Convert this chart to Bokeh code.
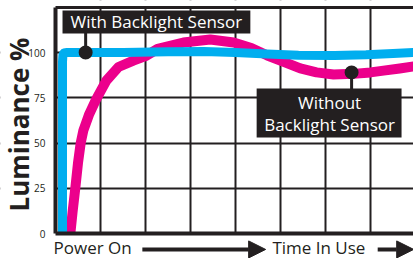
import math
from bokeh.plotting import figure
from bokeh.models import (FixedTicker, Label, Arrow, NormalHead, BoxAnnotation,
                          Segment, ColumnDataSource, LinearAxis)
from bokeh.embed import file_html
from bokeh.resources import INLINE

# ---- data ----
blue_x = [0.156, 0.156, 0.165, 0.19, 0.26, 0.6, 1.5, 2.5, 3.3, 4.0, 4.7, 5.4, 6.2, 6.9, 7.5, 7.96]
blue_y = [0, 95, 98.6, 99.7, 100, 100, 100, 100.4, 100.5, 100, 99.2, 98.5, 98.3, 98.7, 99.4, 100]

pink_x = [0.33, 0.38, 0.44, 0.5, 0.56, 0.62, 0.75, 0.9, 1.13, 1.4, 1.73, 2.0, 2.27, 2.84, 3.44,
          3.96, 4.35, 4.71, 5.1, 5.44, 5.8, 6.18, 6.62, 7.0, 7.29, 7.65, 7.96]
pink_y = [0, 12, 25, 39, 50, 57, 66, 74, 84.5, 92, 95.5, 98, 102, 105.5, 107.2,
          105.5, 102.5, 98.3, 94.5, 91.2, 89, 87.8, 88.2, 89, 90, 91.2, 92.3]

y_ticks = [0, 25, 50, 75, 100]
x_grid = [1, 2, 3, 4, 5, 6, 7]
x_max = 7.96
y_max = 124.86

with_label = "With Backlight Sensor"
without_lines = ["Without", "Backlight Sensor"]
with_dot = (0.67, 100)
without_dot = (6.58, 89)

INK = "#231F20"
BLUE = "#00AEEF"
PINK = "#EC008C"
FONT = "Open Sans"

p = figure(width=413, height=258, x_range=(-1.2222, 7.9556), y_range=(-13.81, 128.73),
           output_backend="svg", toolbar_location=None,
           min_border_left=0, min_border_right=0, min_border_top=0, min_border_bottom=0)
p.background_fill_color = "white"
p.border_fill_color = "white"
p.outline_line_color = None

# axes at fixed data positions
p.yaxis.fixed_location = 0
p.yaxis.bounds = (0, y_max)
p.yaxis.ticker = FixedTicker(ticks=y_ticks)
p.yaxis.axis_line_width = 4
p.yaxis.axis_line_color = INK
p.yaxis.major_tick_line_color = None
p.yaxis.minor_tick_line_color = None
p.yaxis.major_label_standoff = 4
p.yaxis.major_label_text_font = FONT
p.yaxis.major_label_text_font_size = "10px"
p.yaxis.major_label_text_color = INK

p.xaxis.fixed_location = 0
p.xaxis.bounds = (0, x_max)
p.xaxis.ticker = FixedTicker(ticks=[])
p.xaxis.axis_line_width = 4
p.xaxis.axis_line_color = INK
p.xaxis.major_tick_line_color = None
p.xaxis.minor_tick_line_color = None

top_axis = LinearAxis(fixed_location=y_max, bounds=(0, x_max), ticker=FixedTicker(ticks=[]),
                      axis_line_width=3, axis_line_color=INK,
                      major_tick_line_color=None, minor_tick_line_color=None)
p.add_layout(top_axis, "above")

p.xgrid.ticker = FixedTicker(ticks=x_grid)
p.ygrid.ticker = FixedTicker(ticks=y_ticks[1:])
for g in (p.xgrid, p.ygrid):
    g.grid_line_color = INK
    g.grid_line_width = 2
    g.grid_line_alpha = 1

# white masks keeping the grid inside the chart box
for kw in (dict(right=0), dict(top=0), dict(bottom=y_max)):
    p.add_layout(BoxAnnotation(fill_color="white", fill_alpha=1, line_color=None,
                               level="underlay", **kw))

# curves
p.line(pink_x, pink_y, line_color=PINK, line_width=10, line_join="round", line_cap="butt")
p.line(blue_x, blue_y, line_color=BLUE, line_width=9, line_join="round", line_cap="butt")

# callout boxes
p.add_layout(BoxAnnotation(left=0.156, right=4.33, bottom=110.5, top=123.2,
                           fill_color=INK, fill_alpha=1, line_color=None))
p.add_layout(BoxAnnotation(left=4.47, right=7.69, bottom=53, top=80.1,
                           fill_color=INK, fill_alpha=1, line_color=None))

stems = ColumnDataSource(dict(x0=[with_dot[0], without_dot[0]], y0=[with_dot[1], without_dot[1]],
                              x1=[with_dot[0], without_dot[0]], y1=[111, 79]))
p.add_glyph(stems, Segment(x0="x0", y0="y0", x1="x1", y1="y1", line_color=INK, line_width=3))
p.scatter([with_dot[0], without_dot[0]], [with_dot[1], without_dot[1]], size=14,
          fill_color=INK, line_color=None)

p.add_layout(Label(x=2.24, y=116.9, text=with_label, text_font=FONT, text_font_size="17px",
                   text_color="white", text_align="center", text_baseline="middle"))
p.add_layout(Label(x=6.09, y=72.4, text=without_lines[0], text_font=FONT, text_font_size="17px",
                   text_color="white", text_align="center", text_baseline="middle"))
p.add_layout(Label(x=6.09, y=60.2, text=without_lines[1], text_font=FONT, text_font_size="17px",
                   text_color="white", text_align="center", text_baseline="middle"))

# y title
p.add_layout(Label(x=-0.82, y=60.2, text="Luminance %", angle=math.pi / 2, text_font=FONT,
                   text_font_size="26px", text_font_style="bold", text_color=INK,
                   text_align="center", text_baseline="middle"))

# bottom caption
p.add_layout(Label(x=-0.044, y=-8.0, text="Power On", text_font=FONT, text_font_size="17px",
                   text_color=INK, text_align="left", text_baseline="middle"))
p.add_layout(Label(x=4.82, y=-8.0, text="Time In Use", text_font=FONT, text_font_size="17px",
                   text_color=INK, text_align="left", text_baseline="middle"))
for xs, xe in ((1.93, 4.67), (7.16, 7.96)):
    p.add_layout(Arrow(end=NormalHead(size=17, fill_color=INK, line_color=INK),
                       x_start=xs, y_start=-8.8, x_end=xe, y_end=-8.8,
                       line_width=4, line_color=INK))

open("out.html", "w").write(file_html(p, INLINE))
